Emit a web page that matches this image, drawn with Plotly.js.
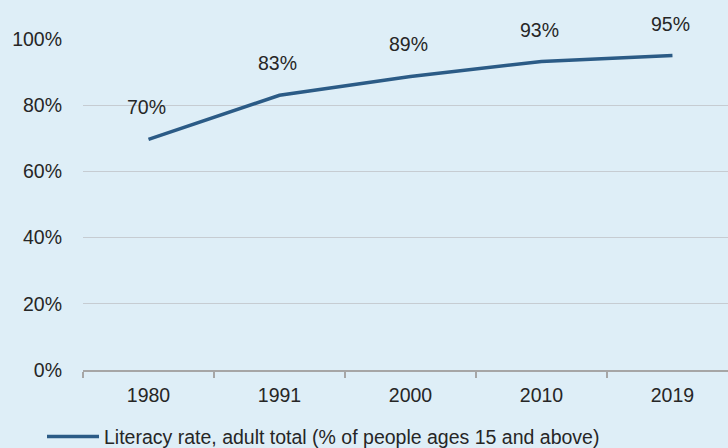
<!DOCTYPE html>
<html><head><meta charset="utf-8">
<script src="https://cdn.plot.ly/plotly-3.0.1.min.js"></script>
<style>html,body{margin:0;padding:0;background:#deeef7}</style>
</head><body><div id="chart" style="width:728px;height:448px"></div>
<script>
const years = ["1980","1991","2000","2010","2019"];
const literacy = [69.7, 83.0, 88.7, 93.2, 95.0];
const labels = ["70%","83%","89%","93%","95%"];
const seriesName = "Literacy rate, adult total (% of people ages 15 and above)";

const font = {family: "Liberation Sans, Arial, sans-serif", size: 19.5, color: "#262626"};

const trace = {
  x: years, y: literacy, type: "scatter", mode: "lines",
  name: seriesName,
  line: {color: "#2b5b86", width: 3.5},
  cliponaxis: false, hoverinfo: "skip"
};

const annotations = years.map((yr, i) => ({
  x: i, y: literacy[i], xref: "x", yref: "y", text: labels[i], showarrow: false,
  yshift: 32, xshift: -2, font: Object.assign({}, font)
}));

const layout = {
  width: 728, height: 448,
  margin: {l: 83, r: 0, t: 39, b: 78},
  paper_bgcolor: "#deeef7", plot_bgcolor: "#deeef7",
  font: font,
  showlegend: true,
  legend: {orientation: "h", xref: "container", yref: "container",
           x: 0.0577, xanchor: "left", y: 0.025, yanchor: "middle",
           font: Object.assign({}, font), bgcolor: "rgba(0,0,0,0)", itemwidth: 52},
  xaxis: {type: "category", range: [-0.5, 4.424], tickson: "boundaries",
          ticks: "outside", ticklen: 6, tickcolor: "#a6a6a6", tickwidth: 2,
          showline: true, linecolor: "#a6a6a6", linewidth: 2,
          showgrid: false, zeroline: false, fixedrange: true, ticklabelstandoff: 7},
  yaxis: {range: [0, 100], tickvals: [0,20,40,60,80,100],
          ticktext: ["0%","20%","40%","60%","80%","100%"],
          showgrid: true, gridcolor: "#c6ccd2", gridwidth: 1,
          zeroline: false, showline: false, ticks: "", fixedrange: true,
          ticklabelstandoff: 20},
  annotations: annotations
};

Plotly.newPlot("chart", [trace], layout, {displayModeBar: false, staticPlot: true});
</script></body></html>
